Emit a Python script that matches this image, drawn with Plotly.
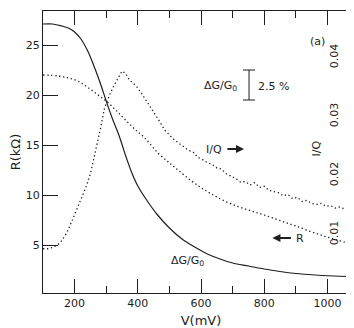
import plotly.graph_objects as go

# Solid curve, delta G / G0 (left axis units)
v_dg = [100, 130, 160, 180, 200, 220, 240, 260, 280, 300, 320, 340, 364, 380, 400,
        430, 460, 500, 540, 580, 620, 660, 700, 750, 800, 850, 900, 960, 1020, 1100]
dg = [27.1, 27.1, 26.9, 26.7, 26.3, 25.6, 24.5, 23.0, 21.3, 19.4, 17.6, 16.0, 13.7, 12.3, 10.9,
      9.4, 8.1, 6.7, 5.6, 4.8, 4.1, 3.6, 3.2, 2.9, 2.6, 2.35, 2.15, 2.0, 1.9, 1.8]

# Dotted R curve (kOhm)
v_r = [100, 150, 180, 210, 240, 270, 300, 330, 358, 390, 422, 464, 500, 527, 570,
       612, 650, 696, 750, 800, 854, 900, 960, 1020, 1100]
r = [22.0, 21.9, 21.7, 21.4, 20.8, 20.1, 19.4, 18.5, 17.6, 16.6, 15.7, 14.2, 13.2, 12.5, 11.4,
     10.5, 9.8, 9.1, 8.5, 8.0, 7.4, 6.9, 6.2, 5.6, 4.9]

# Dotted 1/Q curve (right axis)
v_q = [100, 115, 130, 145, 160, 175, 190, 205, 220, 235, 250, 265, 280, 295, 310, 325,
       340, 350, 360, 370, 380, 395, 410, 425, 440, 455, 470, 485, 500, 515, 530, 545,
       560, 575, 590, 605, 620, 635, 650, 665, 680, 695, 710, 725, 740, 755, 770, 785,
       800, 815, 830, 845, 860, 875, 890, 905, 920, 935, 950, 965, 980, 995, 1010, 1025,
       1040, 1055, 1070, 1085]
inv_q = [0.0073, 0.0073, 0.0075, 0.0079, 0.0087, 0.0100, 0.0118, 0.0138, 0.0156, 0.0176,
         0.0200, 0.0235, 0.0272, 0.0312, 0.0333, 0.0350, 0.0366, 0.0374, 0.0371, 0.0362,
         0.0356, 0.0349, 0.0338, 0.0326, 0.0314, 0.0300, 0.0288, 0.0274, 0.0266, 0.0258,
         0.0252, 0.0246, 0.0240, 0.0237, 0.0228, 0.0224, 0.0219, 0.0216, 0.0210, 0.0208,
         0.0200, 0.0196, 0.0192, 0.0186, 0.0187, 0.0181, 0.0185, 0.0177, 0.0179, 0.0172,
         0.0170, 0.0168, 0.0163, 0.0165, 0.0158, 0.0160, 0.0153, 0.0155, 0.0150, 0.0148,
         0.0150, 0.0145, 0.0146, 0.0142, 0.0144, 0.0140, 0.0139, 0.0143]

x_ticks = [200, 400, 600, 800, 1000]
y_ticks = [5, 10, 15, 20, 25]
q_ticks = [0.01, 0.02, 0.03, 0.04]
q_labels = ["0.01", "0.02", "0.03", "0.04"]

ink = "#1e1e1e"
font = dict(family="DejaVu Sans", size=11, color=ink)

fig = go.Figure()
fig.add_trace(go.Scatter(x=v_dg, y=dg, mode="lines", line_shape="spline",
                         line=dict(color=ink, width=1.2), showlegend=False))
fig.add_trace(go.Scatter(x=v_r, y=r, mode="lines", line_shape="spline",
                         line=dict(color=ink, width=1.3, dash="1.3px,2.7px"), showlegend=False))
fig.add_trace(go.Scatter(x=v_q, y=inv_q, mode="lines", yaxis="y2",
                         line=dict(color=ink, width=1.3, dash="1.3px,2.7px"), showlegend=False))

fig.update_layout(
    width=354, height=328,
    margin=dict(l=35, r=3, t=3, b=43),
    plot_bgcolor="white", paper_bgcolor="white",
    font=font,
    xaxis=dict(range=[100, 1100], tickvals=x_ticks, ticks="inside", ticklen=14,
               tickcolor=ink, showline=True, linecolor=ink, linewidth=1.2,
               mirror="ticks", showgrid=False, zeroline=False, automargin=False,
               minor=dict(dtick=100, tick0=100, ticks="inside", ticklen=7, tickcolor=ink, showgrid=False),
               title=dict(text="V(mV)", standoff=6)),
    yaxis=dict(range=[0.2, 28.4], tickvals=y_ticks, ticks="inside", ticklen=15,
               tickcolor=ink, showline=True, linecolor=ink, linewidth=1.2,
               showgrid=False, zeroline=False, automargin=False,
               title=dict(text="R(kΩ)", standoff=4)),
    yaxis2=dict(range=[-0.0002, 0.0476], overlaying="y", side="right",
                tickvals=q_ticks, ticks="inside", ticklen=8, showticklabels=False,
                tickcolor=ink, showline=True, linecolor=ink, linewidth=1.2,
                showgrid=False, zeroline=False, automargin=False),
)

ann = dict(showarrow=False, font=font)
fig.add_annotation(x=970, y=25.4, text="(a)", **ann)
fig.add_annotation(x=663, y=20.9, text="ΔG/G<sub>0</sub>", **ann)
fig.add_annotation(x=828, y=20.9, text="2.5 %", **ann)
fig.add_annotation(x=556, y=3.4, text="ΔG/G<sub>0</sub>", **ann)
fig.add_annotation(xref="paper", yref="paper", x=0.892, y=0.514, text="I/Q",
                   textangle=-90, **ann)

# right axis tick labels, rotated and drawn inside the frame
for val, lab in zip(q_ticks, q_labels):
    fig.add_annotation(xref="paper", yref="y2", x=0.949, y=val, text=lab,
                       textangle=-90, **ann)

# curve labels with their arrows (text sits at the arrow tail)
arrow = dict(showarrow=True, arrowhead=2, arrowsize=0.8, arrowwidth=2,
             arrowcolor=ink, font=font, ay=0, standoff=0, startstandoff=4)
fig.add_annotation(x=736, y=14.6, ax=-30, text="I/Q", **arrow)
fig.add_annotation(x=826, y=5.7, ax=28, text="R", **arrow)

# 2.5 % scale bar
fig.add_shape(type="line", x0=752, x1=752, y0=19.5, y1=22.5, line=dict(color=ink, width=1))
fig.add_shape(type="line", x0=733, x1=771, y0=19.5, y1=19.5, line=dict(color=ink, width=1))
fig.add_shape(type="line", x0=733, x1=771, y0=22.5, y1=22.5, line=dict(color=ink, width=1))

fig.write_html("out.html")
